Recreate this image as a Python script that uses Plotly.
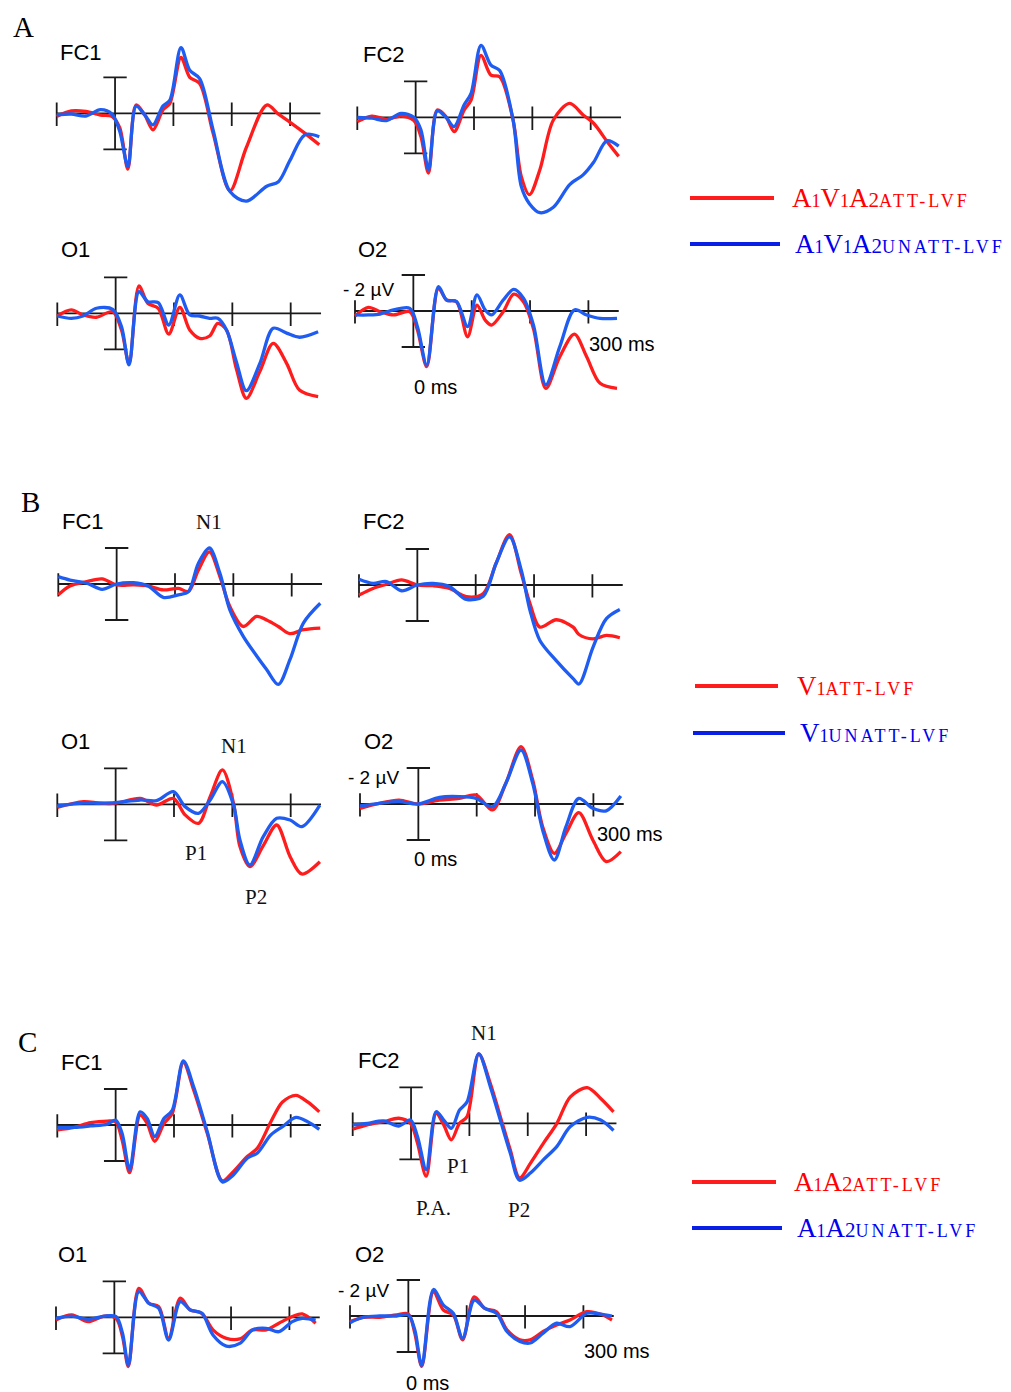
import plotly.graph_objects as go

# ---------------- data (time in ms, amplitude in µV; negative plotted up) ----------------
TICKS_MS = [-100, 100, 200, 300]
SCALE_UV = 2
AXIS_START_MS = -100
AXIS_END_MS = 352

# Section A
T_A_FC1 = [-100, -75, -50, -25, -5, 8, 22, 36, 51, 65, 82, 94, 113, 128, 145, 168, 197, 225, 260, 280, 300, 325, 350]
RED_A_FC1 = [0.18, -0.13, -0.1, 0.1, 0.18, 0.8, 3.1, -0.46, 0.1, 0.92, -0.18, -0.55, -3.1, -2.0, -1.66, 1.1, 4.3, 1.9, -0.46, 0.05, 0.5, 1.1, 1.75]
BLUE_A_FC1 = [0.09, 0.04, 0.15, -0.2, 0.05, 1.0, 2.95, -0.4, 0.09, 0.64, -0.4, -0.74, -3.65, -2.39, -1.93, 0.92, 4.35, 4.88, 4.05, 3.8, 2.6, 1.2, 1.3]

T_A_FC2 = [-100, -75, -50, -25, -3, 9, 22, 37, 52, 66, 83, 95, 112, 129, 144, 167, 181, 195, 213, 236, 264, 287, 305, 328, 348]
RED_A_FC2 = [0.24, -0.07, 0.11, -0.07, 0.18, 1.07, 3.1, -0.4, -0.04, 0.8, -0.4, -0.96, -3.44, -2.34, -2.25, 0.15, 3.28, 4.3, 2.9, 0.15, -0.77, -0.13, 0.33, 1.34, 2.17]
BLUE_A_FC2 = [0, 0.05, 0.18, -0.22, 0, 0.7, 2.9, -0.35, 0, 0.52, -0.68, -1.33, -4.0, -2.9, -2.6, 0.15, 3.83, 4.8, 5.3, 5.0, 3.74, 3.2, 2.5, 1.3, 1.6]

T_A_O1 = [-100, -76, -56, -33, -5, 10, 23, 40, 55, 73, 91, 110, 127, 144, 161, 175, 190, 207, 224, 247, 270, 293, 315, 347]
RED_A_O1 = [0.15, -0.19, 0.09, 0.22, -0.09, 0.93, 2.78, -1.52, -0.56, -0.28, 1.15, -0.33, 0.93, 1.39, 1.26, 0.56, 0.93, 3.1, 4.72, 3.24, 1.67, 2.78, 4.26, 4.63]
BLUE_A_O1 = [0.15, 0.28, 0.15, -0.28, -0.22, 0.74, 2.87, -1.2, -0.65, -0.59, 0.65, -1.02, 0.09, 0.15, 0.28, 0.28, 0.93, 2.7, 4.3, 2.8, 0.83, 1.1, 1.33, 1.02]

T_A_O2 = [-100, -77, -57, -34, -6, 7, 23, 43, 57, 74, 93, 109, 123, 134, 154, 172, 189, 206, 227, 251, 276, 297, 320, 349]
RED_A_O2 = [0.28, -0.2, 0.04, 0.22, 0.04, 1.06, 3.09, -1.26, -0.61, -0.52, 1.43, -0.33, 0.5, 0.78, 0.04, -0.94, -0.5, 1.0, 4.3, 2.54, 1.28, 2.54, 4.02, 4.3]
BLUE_A_O2 = [0.22, 0.22, 0.17, -0.06, -0.15, 0.87, 3.0, -1.35, -0.61, -0.52, 0.87, -0.89, -0.06, 0.22, -0.61, -1.2, -0.7, 0.8, 4.1, 1.98, -0.06, 0.22, 0.41, 0.41]

# Section B
T_B_FC1 = [-100, -80, -51, -25, 0, 29, 54, 80, 106, 123, 140, 159, 177, 194, 217, 240, 257, 277, 297, 320, 349]
RED_B_FC1 = [0.6, 0.11, -0.13, -0.28, 0.05, 0.05, 0.11, 0.33, 0.24, 0.42, -0.77, -1.79, -0.41, 1.25, 2.36, 1.8, 2.0, 2.36, 2.76, 2.54, 2.45]
BLUE_B_FC1 = [-0.41, -0.22, -0.04, 0.3, 0, -0.07, 0.11, 0.74, 0.6, 0.42, -1.14, -2.0, -0.59, 1.44, 2.91, 4.0, 4.75, 5.58, 4.2, 2.17, 1.07]

T_B_FC2 = [-100, -76, -53, -27, 0, 27, 55, 84, 113, 135, 158, 178, 193, 210, 238, 267, 277, 301, 324, 347]
RED_B_FC2 = [0.56, 0.19, -0.04, -0.28, 0, 0.04, 0.19, 0.65, 0.47, -1.21, -2.8, -0.65, 1.03, 2.34, 1.93, 2.34, 2.75, 2.99, 2.8, 2.93]
BLUE_B_FC2 = [-0.32, -0.09, -0.19, 0.32, 0, -0.09, 0.09, 0.8, 0.62, -1.21, -2.67, -0.84, 1.4, 3.08, 4.2, 5.2, 5.5, 3.46, 1.87, 1.36]

T_B_O1 = [-100, -55, -27, 0, 42, 70, 99, 119, 142, 162, 183, 202, 213, 230, 253, 276, 299, 319, 350]
RED_B_O1 = [0.17, -0.15, -0.06, -0.06, -0.33, 0.04, -0.33, 0.59, 1.06, -0.43, -1.91, -0.06, 2.35, 3.46, 2.3, 1.15, 2.91, 3.87, 3.19]
BLUE_B_O1 = [0.09, -0.06, -0.06, -0.09, -0.24, -0.2, -0.7, 0.13, 0.5, -0.24, -1.26, 0.04, 1.98, 3.37, 1.8, 0.78, 0.87, 1.24, 0.04]

T_B_O2 = [-100, -67, -33, 0, 36, 70, 99, 127, 150, 176, 196, 213, 233, 253, 275, 299, 322, 347]
RED_B_O2 = [0.24, -0.04, -0.22, 0, -0.22, -0.31, -0.5, 0.33, -1.15, -3.19, -1.33, 1.26, 2.74, 1.63, 0.48, 2.0, 3.2, 2.65]
BLUE_B_O2 = [0.11, -0.04, -0.13, 0, -0.37, -0.41, -0.31, 0.15, -1.15, -3.0, -1.15, 1.44, 3.11, 1.26, -0.31, 0.24, 0.38, -0.44]

# Section C
T_C_FC1 = [-100, -71, -43, -14, 0, 11, 24, 42, 54, 67, 83, 97, 116, 134, 157, 183, 200, 226, 243, 266, 286, 309, 329, 349]
RED_C_FC1 = [0.27, 0.13, -0.13, -0.22, -0.18, 0.82, 2.65, -0.55, -0.09, 0.91, -0.09, -0.64, -3.47, -1.92, 0.46, 3.1, 2.65, 1.74, 1.28, -0.18, -1.28, -1.65, -1.28, -0.73]
BLUE_C_FC1 = [0.13, 0.13, 0.05, -0.05, -0.27, 0.46, 2.47, -0.73, -0.37, 0.64, -0.37, -0.82, -3.56, -2.1, 0.37, 3.16, 2.83, 1.83, 1.55, 0.55, 0.09, -0.42, -0.18, 0.24]

T_C_FC2 = [-100, -75, -47, -21, -1, 11, 26, 43, 56, 69, 83, 96, 116, 136, 153, 170, 186, 205, 227, 250, 273, 302, 325, 347]
RED_C_FC2 = [0.33, 0.09, -0.09, -0.28, 0, 1.1, 2.94, -0.55, 0.09, 0.92, 0, -0.37, -3.85, -2.2, -0.37, 1.47, 3.03, 2.2, 1.1, 0, -1.47, -1.98, -1.38, -0.64]
BLUE_C_FC2 = [0.09, 0, -0.13, 0.15, -0.18, 0.73, 2.57, -0.64, -0.18, 0.28, -0.73, -1.19, -3.85, -2.02, -0.18, 1.65, 3.16, 2.75, 2.02, 1.28, 0.18, -0.33, -0.18, 0.4]

T_C_O1 = [-100, -73, -45, -17, 3, 14, 24, 42, 59, 76, 93, 113, 130, 150, 169, 192, 215, 237, 260, 282, 305, 322, 345]
RED_C_O1 = [0.15, -0.13, 0.24, -0.07, 0.06, 1.07, 2.74, -1.61, -0.78, -0.59, 1.17, -1.06, -0.41, -0.22, 0.7, 1.17, 1.2, 0.7, 0.7, 0.33, -0.04, -0.19, 0.33]
BLUE_C_O1 = [0.06, -0.07, 0.11, -0.07, -0.04, 0.89, 2.65, -1.43, -0.78, -0.5, 1.26, -0.87, -0.41, -0.22, 0.98, 1.6, 1.45, 0.7, 0.61, 0.8, 0.24, 0.06, 0.15]

T_C_O2 = [-100, -77, -49, -20, 0, 11, 23, 43, 60, 77, 93, 113, 131, 151, 169, 191, 209, 231, 254, 277, 306, 329, 349]
RED_C_O2 = [0.31, 0.07, 0.07, -0.06, -0.11, 0.95, 2.8, -1.34, -0.33, -0.06, 1.32, -1.06, -0.42, -0.24, 0.77, 1.32, 1.32, 0.86, 0.5, 0.22, -0.24, -0.11, 0.22]
BLUE_C_O2 = [0.37, 0.07, 0, 0, -0.06, 0.77, 2.75, -1.47, -0.61, -0.15, 1.23, -0.88, -0.42, -0.15, 0.86, 1.41, 1.5, 0.95, 0.4, 0.59, -0.15, -0.11, 0]

# ---------------- layout (pixel geometry of each panel, in page pixels) ----------------
W, H = 1011, 1392
OFF = 8  # the page body margin shifts the figure by this many pixels
PX_PER_MS = 0.5835
PX_PER_UV = 18.0
X_MIN, X_MAX = -115, 365
TOP_PX, BOT_PX = 92, 106

RED = "#ff1c1c"
BLUE = "#1f5cf2"
INK = "#1a1a1a"
SANS = "Liberation Sans, Arial, sans-serif"
SERIF = "Liberation Serif, Times New Roman, serif"

# (electrode, t, red, blue, x pixel of -100 ms, baseline y pixel, label center px)
PANELS = [
    ("FC1", T_A_FC1, RED_A_FC1, BLUE_A_FC1, 56.7, 113.3, (81, 52)),
    ("FC2", T_A_FC2, RED_A_FC2, BLUE_A_FC2, 357.3, 117.3, (384, 55)),
    ("O1", T_A_O1, RED_A_O1, BLUE_A_O1, 57.3, 313.3, (75, 250)),
    ("O2", T_A_O2, RED_A_O2, BLUE_A_O2, 355.0, 311.0, (372, 249)),
    ("FC1", T_B_FC1, RED_B_FC1, BLUE_B_FC1, 58.3, 584.0, (83, 521)),
    ("FC2", T_B_FC2, RED_B_FC2, BLUE_B_FC2, 359.0, 585.0, (384, 521)),
    ("O1", T_B_O1, RED_B_O1, BLUE_B_O1, 57.3, 804.3, (75, 741)),
    ("O2", T_B_O2, RED_B_O2, BLUE_B_O2, 360.0, 804.0, (378, 741)),
    ("FC1", T_C_FC1, RED_C_FC1, BLUE_C_FC1, 57.3, 1125.0, (82, 1062)),
    ("FC2", T_C_FC2, RED_C_FC2, BLUE_C_FC2, 352.7, 1123.3, (379, 1060)),
    ("O1", T_C_O1, RED_C_O1, BLUE_C_O1, 56.0, 1317.3, (72, 1254)),
    ("O2", T_C_O2, RED_C_O2, BLUE_C_O2, 350.0, 1316.0, (369, 1254)),
]

fig = go.Figure()
layout = dict(
    width=W, height=H, margin=dict(l=0, r=0, t=0, b=0),
    paper_bgcolor="white", plot_bgcolor="rgba(0,0,0,0)", showlegend=False,
)
annotations = []
shapes = []


def fx(x):
    return (x - OFF) / W


def fy(y):
    return 1 - (y - OFF) / H


def note(text, x, y, size, font=SANS, color="black", xanchor="center"):
    annotations.append(dict(text=text, x=fx(x), y=fy(y), xref="paper", yref="paper",
                            xanchor=xanchor, yanchor="middle", showarrow=False,
                            font=dict(family=font, size=size, color=color)))


TICK_UP, TICK_DN = -0.6, 0.7
CAP_MS = 20

for i, (name, t, red, blue, x100, base, lab) in enumerate(PANELS, start=1):
    xn = "x" if i == 1 else f"x{i}"
    yn = "y" if i == 1 else f"y{i}"
    left = x100 + (X_MIN + 100) * PX_PER_MS
    right = x100 + (X_MAX + 100) * PX_PER_MS
    top = max(base - TOP_PX, OFF)
    bot = min(base + BOT_PX, H + OFF)
    layout["xaxis" if i == 1 else f"xaxis{i}"] = dict(
        domain=[fx(left), fx(right)], range=[X_MIN, X_MAX], visible=False,
        anchor=yn, fixedrange=True)
    layout["yaxis" if i == 1 else f"yaxis{i}"] = dict(
        domain=[fy(bot), fy(top)],
        range=[(bot - base) / PX_PER_UV, -(base - top) / PX_PER_UV],
        visible=False, anchor=xn, fixedrange=True)

    # time axis with ticks and the amplitude scale bar at 0 ms
    ax_x = [AXIS_START_MS, AXIS_END_MS, None]
    ax_y = [0, 0, None]
    for tk in TICKS_MS:
        ax_x += [tk, tk, None]
        ax_y += [TICK_UP, TICK_DN, None]
    ax_x += [0, 0, None, -CAP_MS, CAP_MS, None, -CAP_MS, CAP_MS]
    ax_y += [-SCALE_UV, SCALE_UV, None, -SCALE_UV, -SCALE_UV, None, SCALE_UV, SCALE_UV]
    fig.add_trace(go.Scatter(x=ax_x, y=ax_y, mode="lines", xaxis=xn, yaxis=yn,
                             line=dict(color=INK, width=1.8), hoverinfo="skip"))
    fig.add_trace(go.Scatter(x=t, y=red, mode="lines", xaxis=xn, yaxis=yn,
                             line=dict(color=RED, width=3.3, shape="spline", smoothing=0.9)))
    fig.add_trace(go.Scatter(x=t, y=blue, mode="lines", xaxis=xn, yaxis=yn,
                             line=dict(color=BLUE, width=3.3, shape="spline", smoothing=0.9)))
    note(name, lab[0], lab[1], 22)

# section letters
note("A", 23, 27, 29, SERIF)
note("B", 30, 502, 29, SERIF)
note("C", 27, 1042, 29, SERIF)

# O2 scale annotations
for (uvx, uvy), (zx, zy), (sx, sy) in [((368, 289), (435, 387), (622, 344)),
                                       ((373, 778), (435, 859), (630, 834)),
                                       ((363, 1290), (427, 1383), (617, 1351))]:
    note("- 2 µV", uvx, uvy, 19)
    note("0 ms", zx, zy, 20)
    note("300 ms", sx, sy, 20)

# component labels
for txt, x, y in [("N1", 209, 522), ("N1", 234, 746), ("P1", 196, 853), ("P2", 256, 897),
                  ("N1", 484, 1033), ("P1", 458, 1166), ("P.A.", 433, 1208), ("P2", 519, 1210)]:
    note(txt, x, y, 21, SERIF, "#111111")


def legend_text(parts):
    out = ""
    for s, size in parts:
        if size is None:
            out += f'<span style="font-size:18px;letter-spacing:3px">{s}</span>'
        else:
            out += f'<span style="font-size:{size}px">{s}</span>'
    return out


LEG = [
    ((690, 774, 198), (790, 198), [("A", 27), ("1", 18), ("V", 27), ("1", 18), ("A", 27), ("2", 21), ("ATT-LVF", None)], RED, "#ff0000"),
    ((690, 780, 244), (793, 244), [("A", 27), ("1", 18), ("V", 27), ("1", 18), ("A", 27), ("2", 21), ("UNATT-LVF", None)], "#0a1fe6", "#0000ee"),
    ((695, 778, 686), (795, 686), [("V", 27), ("1", 18), ("ATT-LVF", None)], RED, "#ff0000"),
    ((693, 785, 733), (798, 733), [("V", 27), ("1", 18), ("UNATT-LVF", None)], "#0a1fe6", "#0000ee"),
    ((692, 776, 1182), (792, 1182), [("A", 27), ("1", 18), ("A", 27), ("2", 21), ("ATT-LVF", None)], RED, "#ff0000"),
    ((692, 782, 1228), (795, 1228), [("A", 27), ("1", 18), ("A", 27), ("2", 21), ("UNATT-LVF", None)], "#0a1fe6", "#0000ee"),
]
for (x0, x1, ly), (tx, ty), parts, lcol, tcol in LEG:
    shapes.append(dict(type="line", xref="paper", yref="paper", x0=fx(x0), x1=fx(x1),
                       y0=fy(ly), y1=fy(ly), line=dict(color=lcol, width=4)))
    note(legend_text(parts), tx, ty, 22, SERIF, tcol, xanchor="left")

layout["annotations"] = annotations
layout["shapes"] = shapes
fig.update_layout(**layout)
fig.write_html("out.html")
